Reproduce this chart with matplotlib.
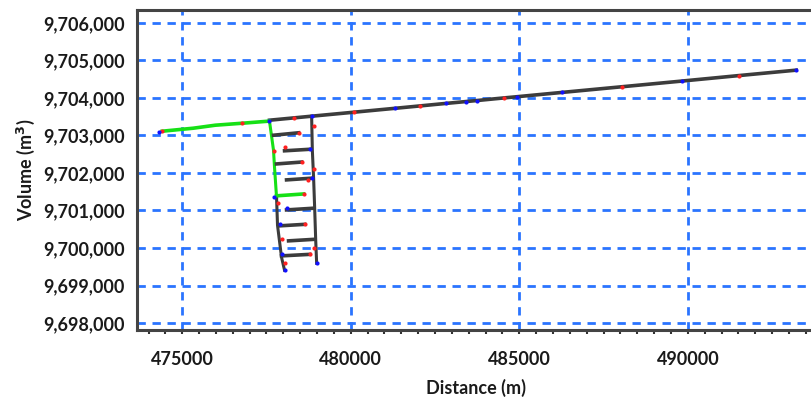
import matplotlib.pyplot as plt
from matplotlib.ticker import MultipleLocator, FuncFormatter

# main (black) channel line
main_x = [477589, 478839, 480089, 481310, 482054, 482827, 483750, 484554,
          484940, 486280, 488036, 489821, 491518, 493214]
main_y = [9703405, 9703512, 9703618, 9703722, 9703786, 9703853, 9703930, 9704000,
          9704032, 9704147, 9704296, 9704448, 9704595, 9704739]

# green inflow line at the left
green_x = [474405, 475327, 475982, 476785, 477559]
green_y = [9703112, 9703192, 9703272, 9703325, 9703379]

# ladder: left and right verticals
left_green_x = [477589, 477708, 477738, 477798]
left_green_y = [9703379, 9702605, 9702152, 9701352]
left_black_x = [477798, 477827, 477946, 478036]
left_black_y = [9701352, 9700605, 9699752, 9699405]
right_x = [478839, 478860, 478899, 478930, 478960, 478988]
right_y = [9703512, 9702605, 9701832, 9701032, 9700205, 9699592]

# rungs (x0, x1, y0, y1)
rung_x0 = [477708, 478036, 477798, 478095, 478095, 477887, 478155, 477946]
rung_x1 = [478452, 478780, 478542, 478839, 478899, 478631, 478899, 478780]
rung_y0 = [9703005, 9702590, 9702240, 9701815, 9701015, 9700590, 9700190, 9699790]
rung_y1 = [9703070, 9702630, 9702290, 9701860, 9701060, 9700630, 9700230, 9699830]
green_rung_x = [477798, 478601]
green_rung_y = [9701390, 9701440]

# nodes
red_x = [474405, 476785, 478452, 480089, 482054, 484554, 488036, 491518,
         477708, 478542, 478899, 478631, 477827, 477946, 478899, 478780, 478036,
         478320, 478900, 478601, 478050, 478720]
red_y = [9703112, 9703325, 9703070, 9703618, 9703786, 9704000, 9704296, 9704595,
         9702590, 9702290, 9702100, 9700630, 9701200, 9700250, 9700000, 9699830, 9699600,
         9703470, 9703250, 9701440, 9702700, 9701800]
blue_x = [474305, 477589, 478839, 481310, 482827, 483420, 483750, 484940, 486280,
          489821, 493214, 478780, 477708, 478839, 478095, 477887, 477946, 478988, 478036]
blue_y = [9703080, 9703379, 9703512, 9703722, 9703853, 9703900, 9703930, 9704032,
          9704147, 9704448, 9704739, 9702630, 9701352, 9701860, 9701060, 9700630,
          9699830, 9699592, 9699405]

plt.rcParams['font.family'] = ['Lato', 'DejaVu Sans']

fig = plt.figure(figsize=(8.11, 4.03), dpi=100)
ax = fig.add_axes([0.169, 0.181, 0.835, 0.794])

line_c = '#3c3c3c'
green_c = '#16e016'
lw = 2.6

ax.plot(main_x, main_y, color=line_c, lw=lw, zorder=3)
ax.plot(green_x, green_y, color=green_c, lw=lw, zorder=3)
ax.plot(left_green_x, left_green_y, color=green_c, lw=2.2, zorder=3)
ax.plot(left_black_x, left_black_y, color=line_c, lw=2.2, zorder=3)
ax.plot(right_x, right_y, color=line_c, lw=2.2, zorder=3)
for x0, x1, y0, y1 in zip(rung_x0, rung_x1, rung_y0, rung_y1):
    ax.plot([x0, x1], [y0, y1], color=line_c, lw=lw, zorder=3)
ax.plot(green_rung_x, green_rung_y, color=green_c, lw=lw, zorder=3)

ax.scatter(red_x, red_y, s=9, color='#ff2020', zorder=4, linewidths=0)
ax.scatter(blue_x, blue_y, s=9, color='#1010ff', zorder=4, linewidths=0)

ax.set_xlim(473660, 493750)
ax.set_ylim(9697813, 9706340)
ax.xaxis.set_major_locator(MultipleLocator(5000))
ax.xaxis.set_minor_locator(MultipleLocator(500))
ax.yaxis.set_major_locator(MultipleLocator(1000))
ax.yaxis.set_major_formatter(FuncFormatter(lambda v, p: f'{v:,.0f}'))

ax.grid(True, which='major', color='#2a74ff', lw=2.0, linestyle=(0, (3, 2.4)), zorder=1)
ax.set_axisbelow(True)

for s in ['left', 'bottom', 'top']:
    ax.spines[s].set_linewidth(2.2)
    ax.spines[s].set_color('#444444')
ax.spines['right'].set_visible(False)

ax.tick_params(axis='x', which='both', direction='out', length=3, width=1.5,
               color='#333333', pad=12, labelsize=13)
ax.tick_params(axis='y', which='both', length=0, pad=9, labelsize=13)
for lab in ax.get_xticklabels() + ax.get_yticklabels():
    lab.set_fontweight('bold')
    lab.set_color('#1a1a1a')

ax.set_xlabel('Distance (m)', fontsize=13, fontweight='bold', labelpad=8, color='#1a1a1a')
ax.set_ylabel('Volume (m$^\\mathbf{3}$)', fontsize=13, fontweight='bold', labelpad=4, color='#1a1a1a')

fig.savefig('out.png', dpi=100)
